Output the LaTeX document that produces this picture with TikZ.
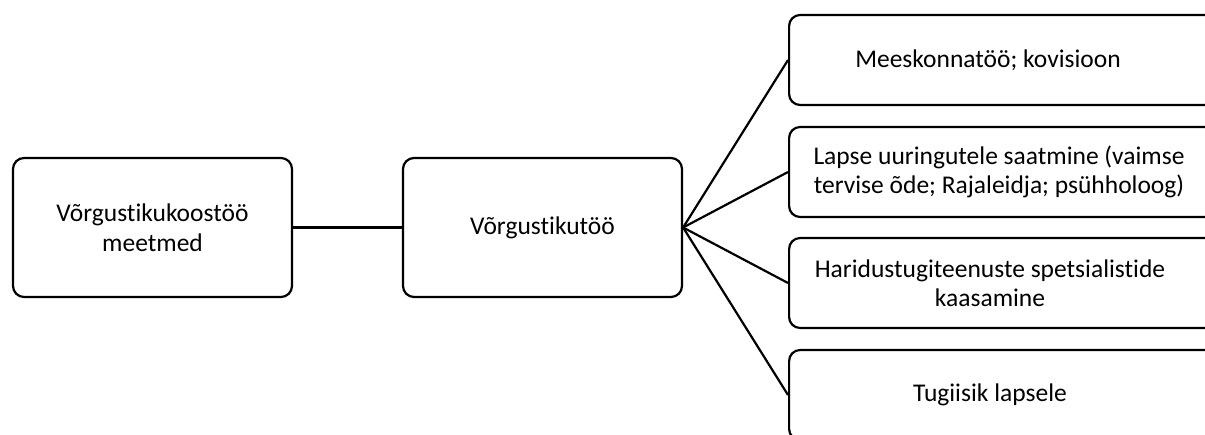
\documentclass[tikz,border=0pt]{standalone}
\usepackage{fontspec}
\setmainfont[Ligatures={NoCommon,NoDiscretionary}]{Carlito}
\tikzset{
  every picture/.style={x=1pt,y=1pt},
  box/.style={draw=black, line width=2.2pt, rounded corners=11pt, fill=white,
    minimum height=139pt, minimum width=279pt, inner sep=0pt},
  rbox/.style={draw=black, line width=2.2pt, rounded corners=11pt, fill=white,
    minimum height=90pt, minimum width=440pt, inner sep=0pt, anchor=west},
  txt/.style={font=\fontsize{25.5}{29.5}\selectfont, align=center, inner sep=0pt},
  link/.style={draw=black, line width=2.2pt}
}
\begin{document}
\begin{tikzpicture}
\useasboundingbox (0,0) rectangle (1205,434);
\clip (0,0) rectangle (1205,434);
\node[box] (left) at (152.5,206.5) {};
\node[txt] (lefttxt) at (left.center) {Võrgustikukoostöö\\meetmed};
\node[box] (mid) at (542.5,206.5) {};
\node[txt] (midtxt) at (mid.center) {Võrgustikutöö};
\node[rbox] (r1) at (788,374) {};
\node[rbox] (r2) at (788,262) {};
\node[rbox] (r3) at (788,151) {};
\node[rbox] (r4) at (788,39) {};
\node[txt] (t1) at (988,374) {Meeskonnatöö; kovisioon};
\node[txt] (t2) at (999,262) {Lapse uuringutele saatmine (vaimse\\tervise õde; Rajaleidja; psühholoog)};
\node[txt] (t3) at (990,151) {Haridustugiteenuste spetsialistide\\kaasamine};
\node[txt] (t4) at (990,39) {Tugiisik lapsele};
\draw[link] (left.east) -- (mid.west);
\draw[link] (mid.east) -- (r1.west);
\draw[link] (mid.east) -- (r2.west);
\draw[link] (mid.east) -- (r3.west);
\draw[link] (mid.east) -- (r4.west);
\end{tikzpicture}
\end{document}
